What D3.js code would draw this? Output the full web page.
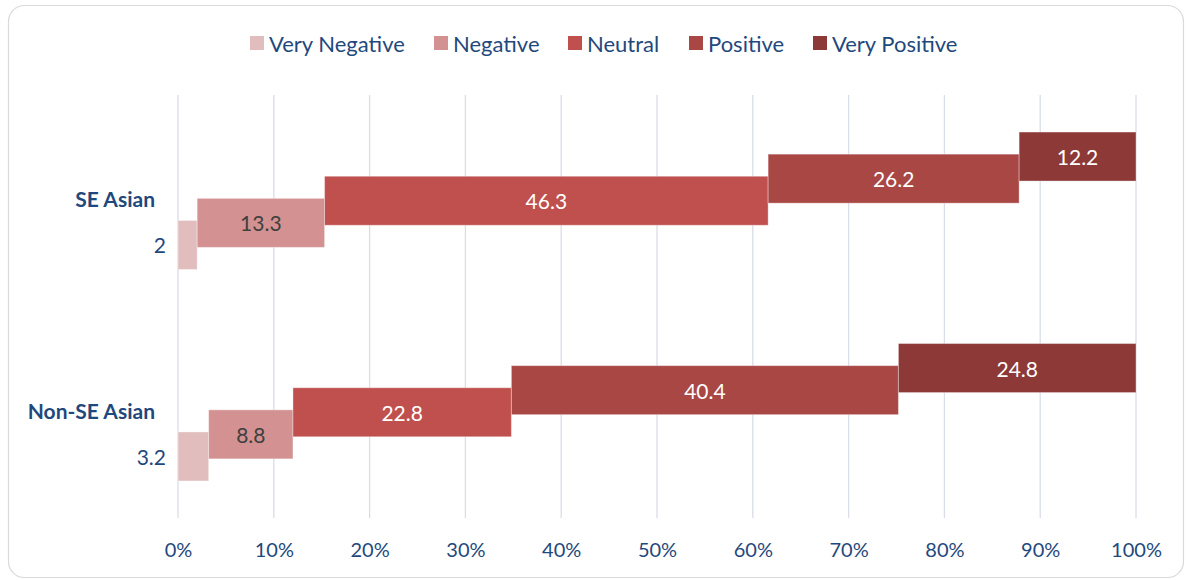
<!DOCTYPE html>
<html><head><meta charset="utf-8">
<script src="https://cdn.jsdelivr.net/npm/d3@7/dist/d3.min.js"></script>
<style>body{margin:0;background:#fff;}svg{display:block;font-family:Lato,"Open Sans",sans-serif;}</style>
</head><body><svg id="c" width="1189" height="580"></svg>
<script>
const categories = ["SE Asian", "Non-SE Asian"];
const seriesNames = ["Very Negative", "Negative", "Neutral", "Positive", "Very Positive"];
const veryNegative = [2, 3.2];
const negative = [13.3, 8.8];
const neutral = [46.3, 22.8];
const positive = [26.2, 40.4];
const veryPositive = [12.2, 24.8];
const tickValues = [0, 10, 20, 30, 40, 50, 60, 70, 80, 90, 100];
const colors = ["#e1bdbd", "#d39291", "#c0504d", "#a94745", "#8c3937"];
const labelColors = ["#1f497d", "#404040", "#ffffff", "#ffffff", "#ffffff"];

const seriesValues = [veryNegative, negative, neutral, positive, veryPositive];
const svg = d3.select("#c");
const textBlue = "#1f497d";

svg.append("rect").attr("x", 8.5).attr("y", 5.5).attr("width", 1175).attr("height", 572)
  .attr("rx", 16).attr("fill", "#fff").attr("stroke", "#d9d9d9").attr("stroke-width", 1.2);

const x = d3.scaleLinear().domain([0, 100]).range([178, 1136]);
const y = d3.scaleBand().domain(categories).range([95, 518]);
const off = d3.scalePoint().domain(seriesNames).range([44.2, -44.2]);
const barH = 49;

// gridlines
svg.append("g").selectAll("line").data(tickValues).join("line")
  .attr("x1", d => x(d)).attr("x2", d => x(d)).attr("y1", 95).attr("y2", 518)
  .attr("stroke", "#d9dde8").attr("stroke-width", 1.3);

// x axis labels
const xAxis = d3.axisBottom(x).tickValues(tickValues).tickFormat(d => d + "%").tickSize(0).tickPadding(0);
const gx = svg.append("g").attr("transform", "translate(0,549)").call(xAxis);
gx.select(".domain").remove();
gx.selectAll("text").attr("font-size", 20).attr("fill", textBlue).attr("dy", null)
  .attr("y", 0).attr("dominant-baseline", "central").attr("font-family", "Lato, sans-serif");

// category labels
categories.forEach(c => {
  svg.append("text").attr("x", 155).attr("y", y(c) + y.bandwidth() / 2 - 2)
    .attr("text-anchor", "end").attr("dominant-baseline", "central")
    .attr("font-size", 21).attr("font-weight", "bold").attr("fill", textBlue).text(c);
});

// stacked staggered bars
categories.forEach((c, ci) => {
  let cum = 0;
  const cy = y(c) + y.bandwidth() / 2;
  seriesNames.forEach((s, si) => {
    const v = seriesValues[si][ci];
    const x0 = x(cum), x1 = x(cum + v);
    const yc = cy + off(s);
    svg.append("rect").attr("x", x0).attr("y", yc - barH / 2).attr("width", x1 - x0).attr("height", barH)
      .attr("fill", colors[si]).attr("stroke", "#fff").attr("stroke-opacity", 0.35).attr("stroke-width", 1);
    const t = svg.append("text").attr("y", yc).attr("dominant-baseline", "central")
      .attr("font-size", 21).attr("fill", labelColors[si]).text(v);
    if (si === 0) {
      t.attr("x", x0 - 12).attr("text-anchor", "end");
    } else {
      t.attr("x", (x0 + x1) / 2).attr("text-anchor", "middle");
    }
    cum += v;
  });
});

// legend
const legendX = [250, 434, 568, 689, 813];
seriesNames.forEach((s, i) => {
  const g = svg.append("g").attr("transform", `translate(${legendX[i]},36)`);
  g.append("rect").attr("width", 14).attr("height", 14).attr("fill", colors[i]);
  g.append("text").attr("x", 19).attr("y", 7).attr("dominant-baseline", "central")
    .attr("font-size", 22).attr("fill", textBlue).text(s);
});
</script></body></html>
